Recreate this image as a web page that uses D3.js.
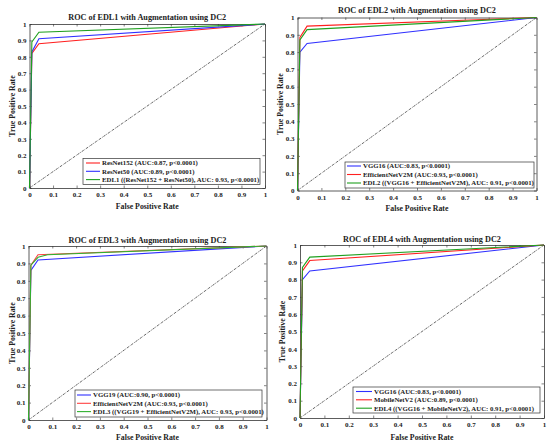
<!DOCTYPE html>
<html><head><meta charset="utf-8">
<script src="https://cdn.jsdelivr.net/npm/d3@7"></script>
<style>body{margin:0;background:#fff}svg{display:block}text{font-family:"Liberation Serif","Times New Roman",serif;font-weight:bold;fill:#222}</style>
</head><body><svg id="c" width="550" height="447"></svg>
<script>
const ticks = [0,0.1,0.2,0.3,0.4,0.5,0.6,0.7,0.8,0.9,1];
const tickLabels = ["0","0.1","0.2","0.3","0.4","0.5","0.6","0.7","0.8","0.9","1"];
const titles = ["ROC of EDL1 with Augmentation using DC2","ROC of EDL2 with Augmentation using DC2","ROC of EDL3 with Augmentation using DC2","ROC of EDL4 with Augmentation using DC2"];
const seriesNames = [
  ["ResNet152 (AUC:0.87, p<0.0001)","ResNet50 (AUC:0.89, p<0.0001)","EDL1 ((ResNet152 + ResNet50), AUC: 0.93, p<0.0001)"],
  ["VGG16 (AUC:0.83, p<0.0001)","EfficientNetV2M (AUC:0.93, p<0.0001)","EDL2 ((VGG16 + EfficientNetV2M), AUC: 0.91, p<0.0001)"],
  ["VGG19 (AUC:0.90, p<0.0001)","EfficientNetV2M (AUC:0.93, p<0.0001)","EDL3 ((VGG19 + EfficientNetV2M), AUC: 0.93, p<0.0001)"],
  ["VGG16 (AUC:0.83, p<0.0001)","MobileNetV2 (AUC:0.89, p<0.0001)","EDL4 ((VGG16 + MobileNetV2), AUC: 0.91, p<0.0001)"]
];
const seriesColors = [
  ["#ff2020","#3030ff","#20a020"],
  ["#3030ff","#ff2020","#20a020"],
  ["#3030ff","#ff4040","#30b030"],
  ["#3030ff","#ff2020","#20a020"]
];
// ROC points [fpr, tpr]
const p1_resnet152 = [[0,0],[0.01,0.82],[0.04,0.88],[1,1]];
const p1_resnet50  = [[0,0],[0.01,0.83],[0.04,0.91],[1,1]];
const p1_edl1      = [[0,0],[0.01,0.89],[0.04,0.95],[1,1]];
const p2_vgg16     = [[0,0],[0.01,0.80],[0.04,0.85],[1,1]];
const p2_effv2m    = [[0,0],[0.01,0.885],[0.04,0.95],[1,1]];
const p2_edl2      = [[0,0],[0.01,0.87],[0.04,0.93],[1,1]];
const p3_vgg19     = [[0,0],[0.01,0.86],[0.04,0.92],[1,1]];
const p3_effv2m    = [[0,0],[0.01,0.89],[0.04,0.95],[1,1]];
const p3_edl3      = [[0,0],[0.01,0.89],[0.04,0.935],[0.08,0.95],[1,1]];
const p4_vgg16     = [[0,0],[0.01,0.80],[0.04,0.85],[1,1]];
const p4_mobilev2  = [[0,0],[0.01,0.85],[0.04,0.91],[1,1]];
const p4_edl4      = [[0,0],[0.01,0.87],[0.04,0.93],[1,1]];
const diagonal = [[0,0],[1,1]];
const seriesData = [
  [p1_resnet152,p1_resnet50,p1_edl1],
  [p2_vgg16,p2_effv2m,p2_edl2],
  [p3_vgg19,p3_effv2m,p3_edl3],
  [p4_vgg16,p4_mobilev2,p4_edl4]
];

// layout
const panels = [
  {l:29.5,r:265,t:24,b:188,titleY:19.5,xlY:208.5,ylX:12,leg:{x:83,y:158.5,w:177,h:26,lx0:86,lx1:100,tx:102,ys:[163,171.3,179.6]}},
  {l:297.5,r:536.5,t:17.5,b:190.5,titleY:13,xlY:210.5,ylX:280.5,leg:{x:345,y:162,w:189,h:26,lx0:347,lx1:361,tx:363,ys:[166,174.5,183]}},
  {l:28.5,r:266.5,t:246,b:420,titleY:243,xlY:440,ylX:12,leg:{x:75,y:390,w:187,h:27,lx0:77,lx1:91,tx:93,ys:[395,403.3,411.6]}},
  {l:300,r:544,t:245,b:418,titleY:242,xlY:439.5,ylX:282,leg:{x:353,y:387,w:187,h:26,lx0:356,lx1:372,tx:374,ys:[391.5,399.8,408.2]}}
];

const svg = d3.select("#c");
panels.forEach((P,i)=>{
  const g = svg.append("g");
  const x = d3.scaleLinear().domain([0,1]).range([P.l,P.r]);
  const y = d3.scaleLinear().domain([0,1]).range([P.b,P.t]);
  const fmt = d => tickLabels[ticks.indexOf(d)] ?? d;
  // axes with inward ticks
  const ax = g.append("g").attr("transform",`translate(0,${P.b})`)
    .call(d3.axisBottom(x).tickValues(ticks).tickFormat(fmt).tickSizeInner(-2.5).tickSizeOuter(0).tickPadding(5));
  const ay = g.append("g").attr("transform",`translate(${P.l},0)`)
    .call(d3.axisLeft(y).tickValues(ticks).tickFormat(fmt).tickSizeInner(-2.5).tickSizeOuter(0).tickPadding(3));
  const at = g.append("g").attr("transform",`translate(0,${P.t})`)
    .call(d3.axisTop(x).tickValues(ticks).tickFormat("").tickSizeInner(-2.5).tickSizeOuter(0));
  const ar = g.append("g").attr("transform",`translate(${P.r},0)`)
    .call(d3.axisRight(y).tickValues(ticks).tickFormat("").tickSizeInner(-2.5).tickSizeOuter(0));
  [ax,ay,at,ar].forEach(a=>{
    a.selectAll("path").attr("stroke","#333").attr("stroke-width",0.8);
    a.selectAll("line").attr("stroke","#333").attr("stroke-width",0.6);
    a.selectAll("text").style("font-size","7px").attr("fill","#222").style("font-family",'"Liberation Serif",serif').style("font-weight","bold");
  });
  ax.selectAll("text").attr("dy","0.6em");
  // diagonal
  const line = d3.line().x(d=>x(d[0])).y(d=>y(d[1]));
  g.append("path").attr("d",line(diagonal)).attr("fill","none").attr("stroke","#222")
    .attr("stroke-width",0.7).attr("stroke-dasharray","2.5,1,0.8,1");
  seriesData[i].forEach((s,k)=>{
    g.append("path").attr("d",line(s)).attr("fill","none")
      .attr("stroke",seriesColors[i][k]).attr("stroke-width",1.1);
  });
  // title & labels
  g.append("text").attr("x",(P.l+P.r)/2).attr("y",P.titleY).attr("text-anchor","middle")
    .style("font-size","8.2px").text(titles[i]);
  g.append("text").attr("x",(P.l+P.r)/2).attr("y",P.xlY).attr("text-anchor","middle")
    .style("font-size","7.8px").text("False Positive Rate");
  g.append("text").attr("transform",`translate(${P.ylX},${(P.t+P.b)/2}) rotate(-90)`).attr("text-anchor","middle")
    .attr("dy","0.35em").style("font-size","7.8px").text("True Positive Rate");
  // legend
  const L = P.leg;
  g.append("rect").attr("x",L.x).attr("y",L.y).attr("width",L.w).attr("height",L.h)
    .attr("fill","#fff").attr("stroke","#333").attr("stroke-width",0.7);
  seriesNames[i].forEach((n,k)=>{
    g.append("line").attr("x1",L.lx0).attr("x2",L.lx1).attr("y1",L.ys[k]).attr("y2",L.ys[k])
      .attr("stroke",seriesColors[i][k]).attr("stroke-width",1.1);
    g.append("text").attr("x",L.tx).attr("y",L.ys[k]).attr("dy","0.35em")
      .style("font-size","6.8px").text(n);
  });
});
</script></body></html>
